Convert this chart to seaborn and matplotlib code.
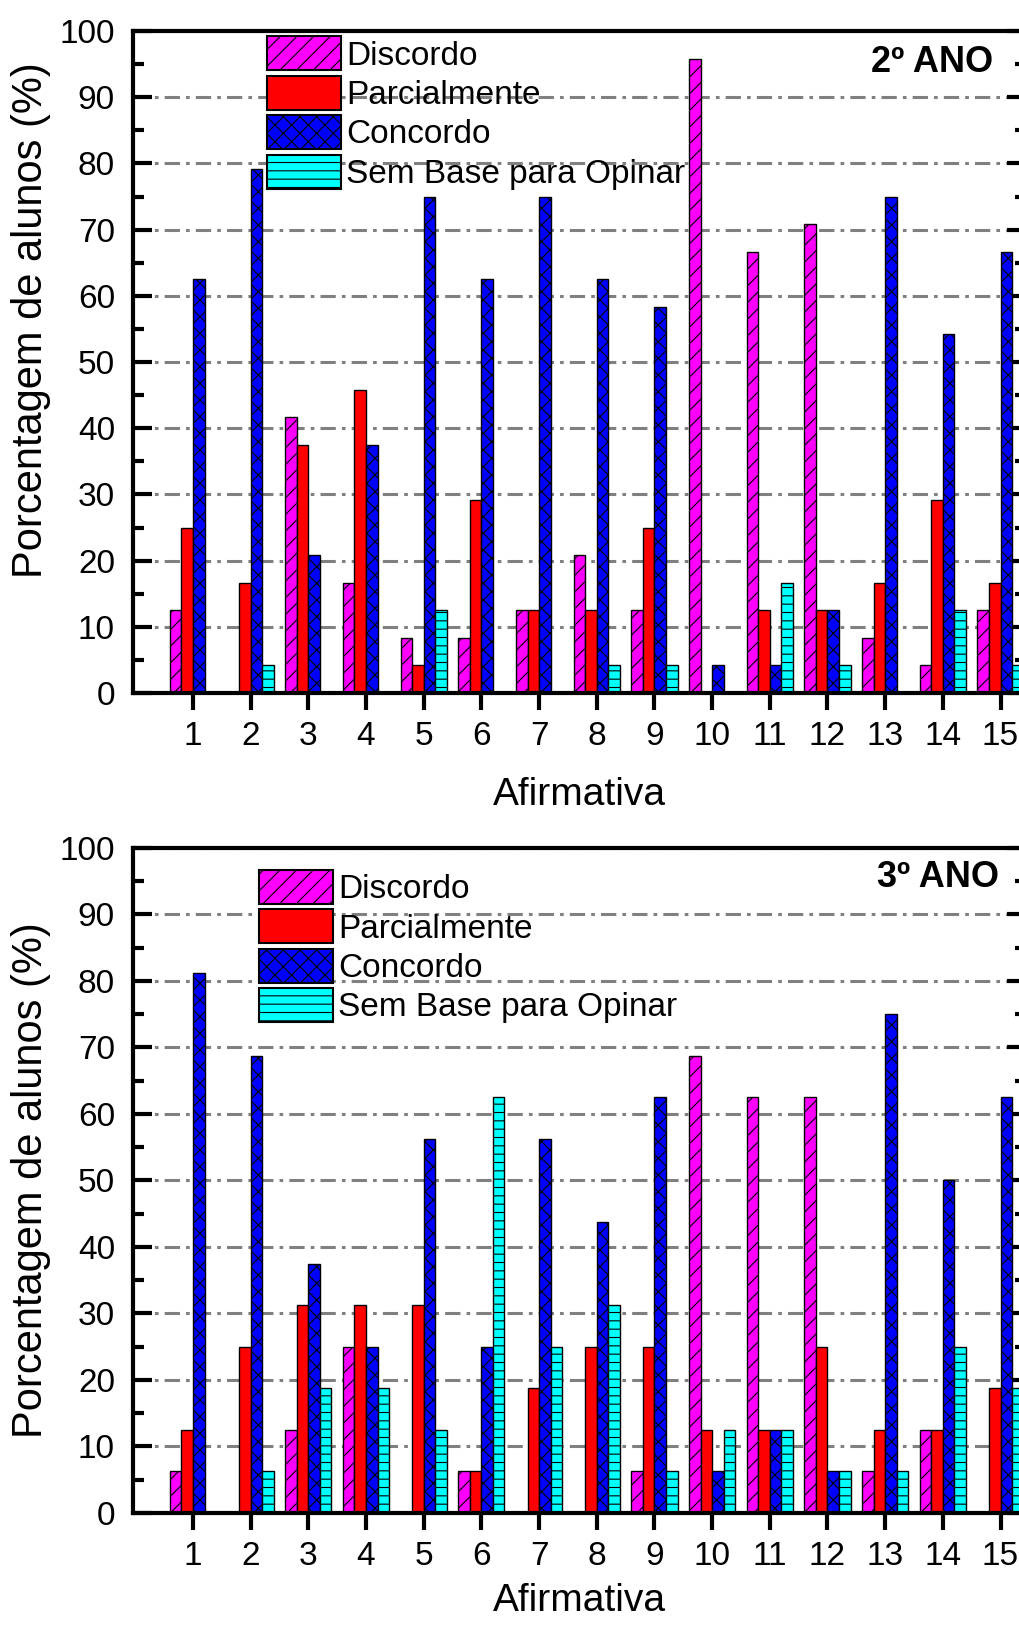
import numpy as np
import pandas as pd
import seaborn as sns
import matplotlib.pyplot as plt
from matplotlib.patches import Patch
from matplotlib.ticker import MultipleLocator

# response categories and their look
respostas = ["Discordo", "Parcialmente", "Concordo", "Sem Base para Opinar"]
cores = ["#FF00FF", "#FF0000", "#0000FF", "#00FFFF"]
hachuras = ["//", "", "xx", "--"]

afirmativas = list(range(1, 16))

# 2º ano (values in %)
ano2_discordo = [12.5, 0, 41.7, 16.7, 8.3, 8.3, 12.5, 20.8, 12.5, 95.8, 66.7, 70.8, 8.3, 4.2, 12.5]
ano2_parcial = [25.0, 16.7, 37.5, 45.8, 4.2, 29.2, 12.5, 12.5, 25.0, 0, 12.5, 12.5, 16.7, 29.2, 16.7]
ano2_concordo = [62.5, 79.2, 20.8, 37.5, 75.0, 62.5, 75.0, 62.5, 58.3, 4.2, 4.2, 12.5, 75.0, 54.2, 66.7]
ano2_sembase = [0, 4.2, 0, 0, 12.5, 0, 0, 4.2, 4.2, 0, 16.7, 4.2, 0, 12.5, 4.2]

# 3º ano (values in %)
ano3_discordo = [6.25, 0, 12.5, 25.0, 0, 6.25, 0, 0, 6.25, 68.75, 62.5, 62.5, 6.25, 12.5, 0]
ano3_parcial = [12.5, 25.0, 31.25, 31.25, 31.25, 6.25, 18.75, 25.0, 25.0, 12.5, 12.5, 25.0, 12.5, 12.5, 18.75]
ano3_concordo = [81.25, 68.75, 37.5, 25.0, 56.25, 25.0, 56.25, 43.75, 62.5, 6.25, 12.5, 6.25, 75.0, 50.0, 62.5]
ano3_sembase = [0, 6.25, 18.75, 18.75, 12.5, 62.5, 25.0, 31.25, 6.25, 12.5, 12.5, 6.25, 6.25, 25.0, 18.75]


def tabela(series):
    linhas = []
    for resp, vals in zip(respostas, series):
        for a, v in zip(afirmativas, vals):
            linhas.append({"Afirmativa": a, "Resposta": resp, "pct": v})
    return pd.DataFrame(linhas)


sns.set_style("white")
plt.rcParams["font.family"] = ["Liberation Sans", "DejaVu Sans"]
plt.rcParams["hatch.linewidth"] = 0.8
for k in ["text.color", "axes.labelcolor", "xtick.color", "ytick.color", "axes.edgecolor"]:
    plt.rcParams[k] = "black"

fig = plt.figure(figsize=(10.19, 16.27), dpi=100)
ax_top = fig.add_axes([0.1305, 0.574, 0.8763, 0.4069])
ax_bot = fig.add_axes([0.1305, 0.0701, 0.8763, 0.4087])

# axes, data, title, title pos, legend pos, ylabel centre, xlabel pad
paineis = [
    (ax_top, [ano2_discordo, ano2_parcial, ano2_concordo, ano2_sembase], "2º ANO",
     (0.963, 0.953), (0.150, 0.992), 0.563, 18),
    (ax_bot, [ano3_discordo, ano3_parcial, ano3_concordo, ano3_sembase], "3º ANO",
     (0.970, 0.955), (0.141, 0.967), 0.5, 8),
]

for ax, series, titulo, pos_tit, pos_leg, ylab_y, xpad in paineis:
    df = tabela(series)
    sns.barplot(data=df, x="Afirmativa", y="pct", hue="Resposta", hue_order=respostas,
                palette=cores, saturation=1, width=0.8, errorbar=None,
                edgecolor="black", linewidth=1.0, legend=False, ax=ax)
    for cont, h in zip(ax.containers, hachuras):
        for barra in cont:
            barra.set_hatch(h)

    ax.set_xlim(-1.04, 14.44)
    ax.set_ylim(0, 100)
    ax.yaxis.set_major_locator(MultipleLocator(10))
    ax.yaxis.set_minor_locator(MultipleLocator(5))
    ax.set_axisbelow(True)
    ax.yaxis.grid(True, which="major", color="#808080",
                  linestyle=(0, (5, 2, 1.2, 2)), linewidth=2.2)
    ax.xaxis.grid(False)

    for s in ax.spines.values():
        s.set_visible(True)
        s.set_linewidth(3)
        s.set_color("black")

    ax.tick_params(axis="y", which="major", direction="in", length=13.5, width=3,
                   left=True, right=True, labelsize=24, pad=13)
    ax.tick_params(axis="y", which="minor", direction="in", length=8, width=3,
                   left=True, right=True)
    ax.tick_params(axis="x", which="major", direction="out", length=12, width=3,
                   bottom=True, top=False, labelsize=24, pad=8)

    ax.set_xlabel("Afirmativa", fontsize=28, labelpad=xpad)
    ax.set_ylabel("Porcentagem de alunos (%)", fontsize=30)
    ax.yaxis.set_label_coords(-0.092, ylab_y)

    ax.text(pos_tit[0], pos_tit[1], titulo, transform=ax.transAxes, ha="right",
            va="center", fontsize=26, fontweight="bold")

    handles = [Patch(facecolor=c, edgecolor="black", hatch=h, linewidth=1.5, label=r)
               for r, c, h in zip(respostas, cores, hachuras)]
    ax.legend(handles=handles, loc="upper left", bbox_to_anchor=pos_leg, frameon=False,
              fontsize=24, handlelength=2.22, handleheight=1.18, labelspacing=0.13,
              handletextpad=0.15, borderpad=0, borderaxespad=0)

fig.savefig("out.png", dpi=100)
